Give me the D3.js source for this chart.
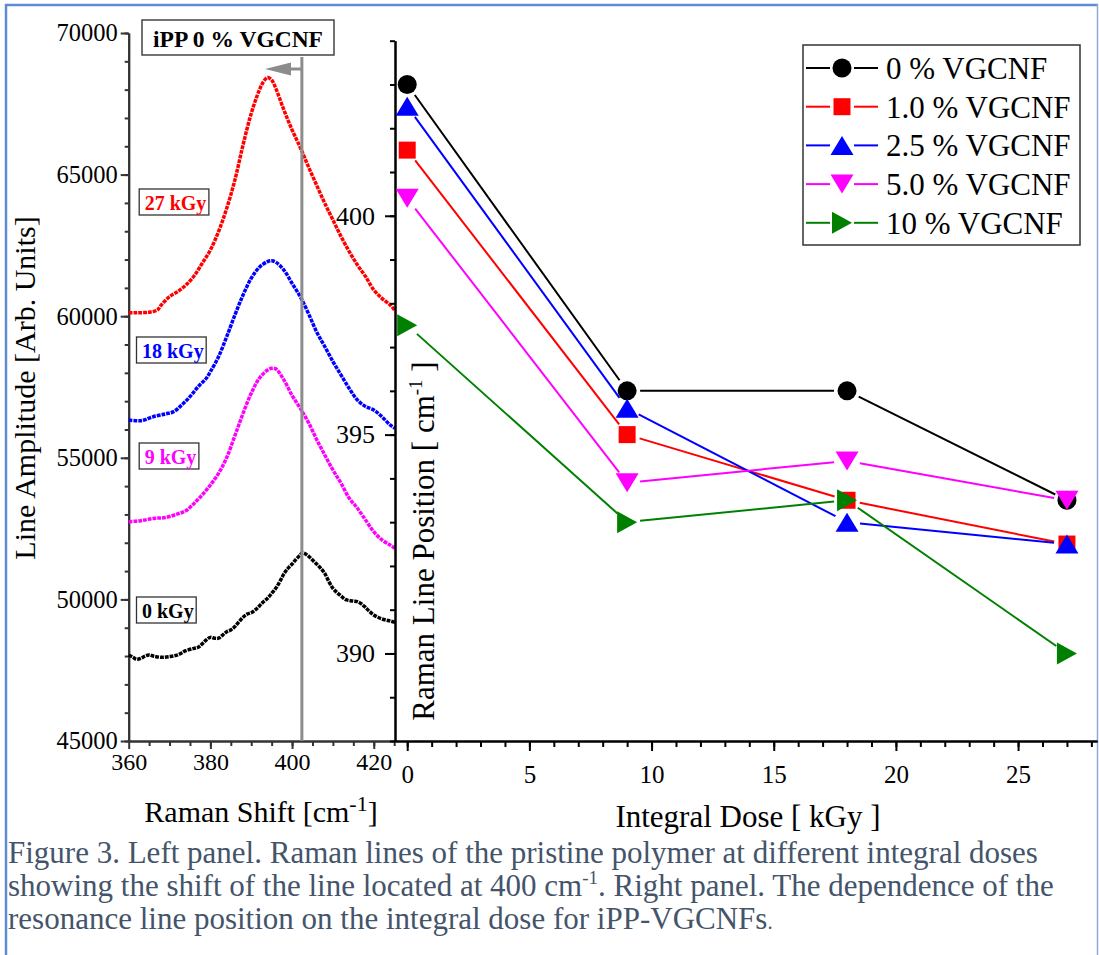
<!DOCTYPE html>
<meta charset="UTF-8">
<style>
body { margin: 0; background: #fff; }
svg text { font-family: "Liberation Serif", "Times New Roman", serif; }
</style>
<body>
<script src="https://cdn.jsdelivr.net/npm/d3@7"></script>
<script>
// ---- left panel: Raman spectra of pristine iPP, [shift (cm-1), amplitude]
var spec0kGy = [[360,48040],[361,47960],[362,47885],[363,47920],[364,48000],[365,48040],[366,48000],[368,47955],[370,47980],
  [372,48040],[374,48190],[376,48270],[377,48310],[378,48430],[379,48570],[380,48660],[381,48630],[382,48630],[383,48740],
  [384,48860],[385,48920],[386,49040],[387,49210],[388,49370],[389,49480],[390,49530],[391,49630],[392,49770],[393,49920],
  [394,50040],[395,50210],[396,50390],[397,50630],[398,50900],[399,51100],[400,51250],[401,51420],[402,51570],[402.5,51650],
  [403,51630],[404,51530],[405,51390],[406,51250],[407,51100],[408,50920],[409,50630],[410,50390],[411,50240],[412,50120],
  [413,50000],[414,49960],[415,49940],[416,49920],[417,49840],[418,49710],[419,49570],[420,49450],[421,49370],[422,49310],
  [423,49270],[424,49240],[425.2,49190]];
var spec9kGy = [[360,52745],[363,52780],[366,52860],[369,52890],[372,53020],[374,53130],[376,53390],[378,53690],[380,54040],
  [382,54450],[384,55010],[386,55780],[388,56570],[390,57280],[392,57810],[394,58100],[395,58160],[396,58140],[398,57750],
  [400,57200],[402,56750],[404,56250],[406,55650],[408,55100],[410,54570],[412,54100],[414,53570],[416,53220],[418,52800],
  [420,52390],[422,52100],[424,51920],[425.2,51800]];
var spec18kGy = [[360,56335],[363,56310],[366,56450],[369,56550],[371,56630],[373,56865],[375,57160],[377,57510],[379,57810],
  [380,58040],[382,58570],[384,59280],[386,60040],[388,60750],[390,61340],[392,61730],[394,61930],[395,61960],[396,61910],
  [398,61630],[400,61160],[402,60690],[404,60100],[406,59450],[408,58930],[410,58400],[412,57920],[414,57450],[416,57040],
  [418,56810],[420,56690],[422,56450],[424,56160],[425.2,56040]];
var spec27kGy = [[360,60120],[362,60125],[365,60140],[367,60220],[368,60400],[370,60690],[372,60870],[374,61100],[376,61420],
  [378,61870],[380,62340],[382,62990],[384,63810],[386,64810],[388,66050],[390,67160],[392,67990],[393,68280],[394,68430],
  [395,68340],[396,68050],[398,67280],[400,66580],[402,65960],[404,65280],[406,64630],[408,63990],[410,63400],[412,62810],
  [414,62280],[416,61810],[418,61400],[420,60930],[422,60630],[424,60400],[425.2,60200]];
var spectra = [spec0kGy, spec9kGy, spec18kGy, spec27kGy];
var spectrumLabels = ["0 kGy", "9 kGy", "18 kGy", "27 kGy"];
var spectrumColors = ["#000000", "#ff00ff", "#0000ff", "#ff0000"];
var linePosition0kGy = 402.4;   // marked line position of the unirradiated sample

// ---- right panel: line position vs integral dose
var doses = [0, 9, 18, 27];
var pos0 = [403.0, 396.0, 396.0, 393.5];
var pos10 = [401.5, 395.0, 393.5, 392.5];
var pos25 = [402.5, 395.6, 393.0, 392.5];
var pos50 = [400.4, 393.9, 394.4, 393.5];
var pos100 = [397.5, 393.0, 393.5, 390.0];
var seriesValues = [pos0, pos10, pos25, pos50, pos100];
var seriesNames = ["0 % VGCNF", "1.0 % VGCNF", "2.5 % VGCNF", "5.0 % VGCNF", "10 % VGCNF"];
var seriesColors = ["#000000", "#ff0000", "#0000ff", "#ff00ff", "#008000"];
var seriesSymbols = ["circle", "square", "up", "down", "right"];

var W = 1099, H = 955;
var svg = d3.select("body").append("svg").attr("width", W).attr("height", H);

// page frame
var frame = "#5f8bd3";
svg.append("line").attr("x1", 6).attr("x2", 6).attr("y1", 4).attr("y2", H).attr("stroke", frame).attr("stroke-width", 2.5);
svg.append("line").attr("x1", 5).attr("x2", 1098).attr("y1", 5).attr("y2", 5).attr("stroke", frame).attr("stroke-width", 2.5);
svg.append("line").attr("x1", 1097.5).attr("x2", 1097.5).attr("y1", 4).attr("y2", H).attr("stroke", "#8eaadb").attr("stroke-width", 1.5);

// ================= left panel =================
var xL = d3.scaleLinear().domain([360, 425.2]).range([128.7, 395]);
var yL = d3.scaleLinear().domain([45000, 70000]).range([741, 33]);
var axisGrey = "#333";

function styleAxis(g, color, size) {
  g.attr("font-family", "Liberation Serif").attr("font-size", size);
  g.select(".domain").attr("stroke", color).attr("stroke-width", 2);
  g.selectAll(".tick line").attr("stroke", color).attr("stroke-width", 2);
  g.selectAll(".tick text").attr("fill", "#000");
}

// minor ticks first, then majors with labels
svg.append("g").attr("transform", "translate(0,741)")
  .call(d3.axisBottom(xL).tickValues(d3.range(365, 426, 5)).tickSize(5).tickFormat("").tickSizeOuter(0))
  .call(styleAxis, axisGrey, 24);
var gxL = svg.append("g").attr("transform", "translate(0,741)")
  .call(d3.axisBottom(xL).tickValues([360, 380, 400, 420]).tickSize(8).tickSizeOuter(0))
  .call(styleAxis, axisGrey, 24);
gxL.selectAll(".tick text").attr("y", 29).attr("dy", 0);

svg.append("g").attr("transform", "translate(128.7,0)")
  .call(d3.axisLeft(yL).tickValues(d3.range(45000, 70001, 1000)).tickSize(4).tickFormat("").tickSizeOuter(0))
  .call(styleAxis, axisGrey, 24.5);
svg.append("g").attr("transform", "translate(128.7,0)")
  .call(d3.axisLeft(yL).tickValues(d3.range(45000, 70001, 5000)).tickSize(8).tickPadding(3).tickFormat(d3.format("d")).tickSizeOuter(0))
  .call(styleAxis, axisGrey, 24.5);

// spectra drawn as dense dotted traces
var spectrumLine = d3.line().x(function(d) { return xL(d[0]); }).y(function(d) { return yL(d[1]); })
  .curve(d3.curveCatmullRom);
svg.append("g").selectAll("path").data(spectra).join("path")
  .attr("d", spectrumLine)
  .attr("fill", "none")
  .attr("stroke", function(d, i) { return spectrumColors[i]; })
  .attr("stroke-width", 3.5)
  .attr("stroke-dasharray", "3.8,1");

// vertical marker at the unirradiated line position, with shift arrow
var xMark = xL(linePosition0kGy);
svg.append("line").attr("x1", xMark).attr("x2", xMark).attr("y1", 57).attr("y2", 741)
  .attr("stroke", "#8c8c8c").attr("stroke-width", 3);
svg.append("line").attr("x1", xMark).attr("x2", 286).attr("y1", 69).attr("y2", 69)
  .attr("stroke", "#8c8c8c").attr("stroke-width", 3);
svg.append("path").attr("d", "M265,69L291,62.5L291,75.5Z").attr("fill", "#8c8c8c");

// dose labels in boxes
var labelPos = [[142, 618], [144.7, 464], [142, 358], [144.7, 210]];
spectrumLabels.forEach(function(lab, i) {
  var g = svg.append("g");
  var t = g.append("text").attr("x", labelPos[i][0]).attr("y", labelPos[i][1])
    .attr("font-size", 20).attr("font-weight", "bold").attr("fill", spectrumColors[i]).text(lab);
  var bb = t.node().getBBox();
  g.insert("rect", "text").attr("x", bb.x - 5.5).attr("y", labelPos[i][1] - 21)
    .attr("width", bb.width + 8).attr("height", 26)
    .attr("fill", "#fff").attr("stroke", "#333").attr("stroke-width", 1.3);
});

// sample title box
svg.append("rect").attr("x", 142).attr("y", 20).attr("width", 192).attr("height", 35)
  .attr("fill", "#fff").attr("stroke", "#444").attr("stroke-width", 1.5);
svg.append("text").attr("x", 238).attr("y", 46.5).attr("text-anchor", "middle")
  .attr("font-size", 23.5).attr("font-weight", "bold").text("iPP 0 % VGCNF");

// axis titles
svg.append("text").attr("transform", "translate(35,388) rotate(-90)").attr("text-anchor", "middle")
  .attr("font-size", 30).text("Line Amplitude [Arb. Units]");
var tx = svg.append("text").attr("x", 261).attr("y", 822).attr("text-anchor", "middle").attr("font-size", 30);
tx.append("tspan").text("Raman Shift [cm");
tx.append("tspan").attr("font-size", 22).attr("dy", -11).text("-1");
tx.append("tspan").attr("dy", 11).text("]");

// ================= right panel =================
var xR = d3.scaleLinear().domain([-0.5, 28.23]).range([395, 1097]);
var yR = d3.scaleLinear().domain([388, 404]).range([741, 40.7]);

svg.append("g").attr("transform", "translate(0,741)")
  .call(d3.axisBottom(xR).tickValues(d3.range(0, 29, 1)).tickSize(6).tickFormat("").tickSizeOuter(0))
  .call(styleAxis, "#000", 25);
var gxR = svg.append("g").attr("transform", "translate(0,741)")
  .call(d3.axisBottom(xR).tickValues(d3.range(0, 26, 5)).tickSize(10).tickSizeOuter(0))
  .call(styleAxis, "#000", 25);
gxR.selectAll(".tick text").attr("y", 42).attr("dy", 0);

svg.append("g").attr("transform", "translate(395,0)")
  .call(d3.axisLeft(yR).tickValues(d3.range(388, 405, 1)).tickSize(5).tickFormat("").tickSizeOuter(0))
  .call(styleAxis, "#000", 26);
svg.append("g").attr("transform", "translate(395,0)")
  .call(d3.axisLeft(yR).tickValues([390, 395, 400]).tickSize(10).tickPadding(10).tickSizeOuter(0))
  .call(styleAxis, "#000", 26);

// marker shapes
function symbolPath(type) {
  if (type === "circle") return "M9.5,0A9.5,9.5,0,1,1,-9.5,0A9.5,9.5,0,1,1,9.5,0Z";
  if (type === "square") return "M-8.5,-8.5h17v17h-17Z";
  if (type === "up") return "M0,-9.5L11.5,9.5L-11.5,9.5Z";
  if (type === "down") return "M0,9.5L11.5,-9.5L-11.5,-9.5Z";
  return "M10,0L-10,-11L-10,11Z";
}

// connecting segments stop short of the markers
var gap = 13;
function gappedSegments(pts) {
  var out = [];
  for (var i = 0; i < pts.length - 1; i++) {
    var a = pts[i], b = pts[i + 1];
    var dx = b[0] - a[0], dy = b[1] - a[1], len = Math.sqrt(dx * dx + dy * dy);
    var ux = dx / len, uy = dy / len;
    out.push([a[0] + ux * gap, a[1] + uy * gap, b[0] - ux * gap, b[1] - uy * gap]);
  }
  return out;
}

seriesValues.forEach(function(vals, s) {
  var pts = doses.map(function(d, i) { return [xR(d), yR(vals[i])]; });
  var g = svg.append("g");
  g.selectAll("line").data(gappedSegments(pts)).join("line")
    .attr("x1", function(d) { return d[0]; }).attr("y1", function(d) { return d[1]; })
    .attr("x2", function(d) { return d[2]; }).attr("y2", function(d) { return d[3]; })
    .attr("stroke", seriesColors[s]).attr("stroke-width", 2);
  g.selectAll("path").data(pts).join("path")
    .attr("transform", function(d) { return "translate(" + d[0] + "," + d[1] + ")"; })
    .attr("d", symbolPath(seriesSymbols[s]))
    .attr("fill", seriesColors[s]);
});

// legend
var lg = svg.append("g");
lg.append("rect").attr("x", 803).attr("y", 45).attr("width", 277).attr("height", 200)
  .attr("fill", "#fff").attr("stroke", "#333").attr("stroke-width", 1.5);
seriesNames.forEach(function(name, i) {
  var cy = 68 + i * 38.7;
  lg.append("line").attr("x1", 806).attr("x2", 830).attr("y1", cy).attr("y2", cy)
    .attr("stroke", seriesColors[i]).attr("stroke-width", 2);
  lg.append("line").attr("x1", 854).attr("x2", 878).attr("y1", cy).attr("y2", cy)
    .attr("stroke", seriesColors[i]).attr("stroke-width", 2);
  lg.append("path").attr("transform", "translate(842," + cy + ")")
    .attr("d", symbolPath(seriesSymbols[i])).attr("fill", seriesColors[i]);
  lg.append("text").attr("x", 886).attr("y", cy + 11).attr("font-size", 31).text(name);
});

// axis titles
var ty = svg.append("text").attr("transform", "translate(434,541) rotate(-90)")
  .attr("text-anchor", "middle").attr("font-size", 31);
ty.append("tspan").text("Raman Line Position [ cm");
ty.append("tspan").attr("font-size", 19).attr("dy", -12).text("-1");
ty.append("tspan").attr("dy", 12).text(" ]");
svg.append("text").attr("x", 748).attr("y", 827).attr("text-anchor", "middle")
  .attr("font-size", 31).text("Integral Dose [ kGy ]");

// ================= caption =================
var capColor = "#44546a";
var cap = svg.append("g").attr("fill", capColor).attr("font-size", 31);
cap.append("text").attr("x", 8).attr("y", 863)
  .text("Figure 3. Left panel. Raman lines of the pristine polymer at different integral doses");
var c2 = cap.append("text").attr("x", 8).attr("y", 896);
c2.append("tspan").text("showing the shift of the line located at 400 cm");
c2.append("tspan").attr("font-size", 19).attr("dy", -12).text("-1");
c2.append("tspan").attr("dy", 12).text(". Right panel. The dependence of the");
var c3 = cap.append("text").attr("x", 8).attr("y", 929);
c3.append("tspan").text("resonance line position on the integral dose for iPP-VGCNFs");
c3.append("tspan").attr("font-size", 21).text(".");
</script>
</body>
